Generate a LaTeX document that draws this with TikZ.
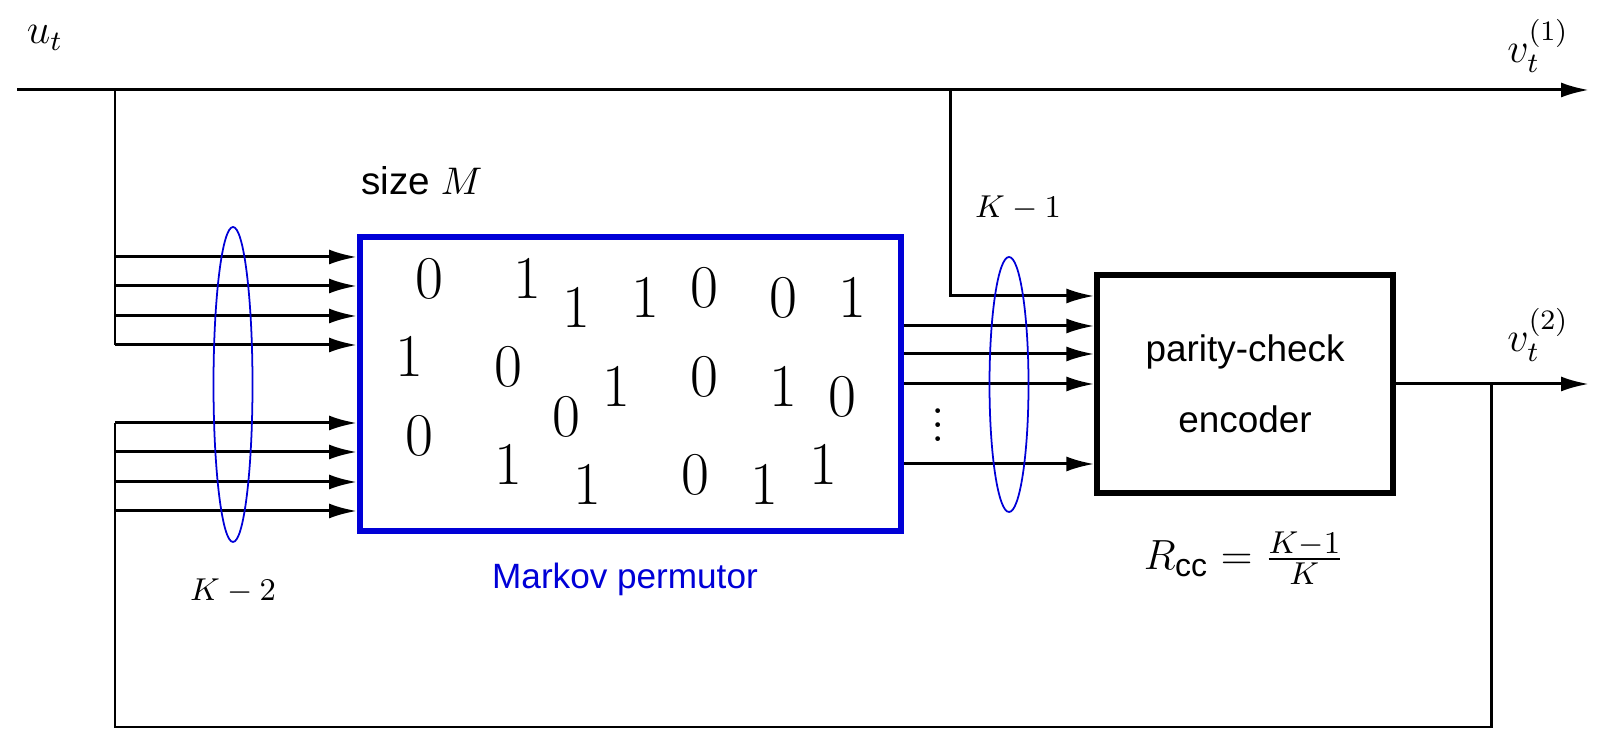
\documentclass[tikz,border=0pt]{standalone}
\usepackage{amsmath}
\usepackage{fontspec}
\setsansfont{Liberation Sans}
\usetikzlibrary{arrows.meta}
\definecolor{permblue}{RGB}{0,0,215}

\begin{document}
\begin{tikzpicture}[line width=0.85pt,
  >={Latex[length=0.28cm,width=0.15cm]},
  bit/.style={font=\fontsize{16}{16}\selectfont},
  lbl/.style={font=\fontsize{12}{14}\selectfont},
  grp/.style={font=\fontsize{9}{11}\selectfont},
  txt/.style={font=\sffamily\fontsize{10.5}{20.2}\selectfont},
  grpring/.style={draw=permblue,line width=0.5pt}]
\useasboundingbox (0,0) rectangle (15.97,7.31);
\node[draw=permblue,line width=1.7pt,minimum width=5.41cm,minimum height=2.94cm,inner sep=0] (perm) at (6.305,3.47) {};
\node[draw,line width=1.5pt,minimum width=2.96cm,minimum height=2.18cm,inner sep=0,txt,align=center] (enc) at (12.45,3.47) {parity-check\\encoder};
\node[lbl] (ut) at (0.45,6.93) {$u_t$};
\node[lbl] (v1) at (15.38,6.85) {$v_t^{(1)}$};
\node[lbl] (v2) at (15.38,3.96) {$v_t^{(2)}$};
\node[txt,font=\sffamily\fontsize{11}{13}\selectfont] (size) at (4.22,5.50) {size $M$};
\node[txt,font=\sffamily\fontsize{10}{12}\selectfont,text=permblue] (permlbl) at (6.25,1.52) {Markov permutor};
\node[grp] (kmtwo) at (2.33,1.40) {$K-2$};
\node[grp] (kmone) at (10.18,5.23) {$K-1$};
\node[font=\fontsize{13}{15}\selectfont] (rate) at (12.44,1.73) {$R_{\textsf{cc}}=\frac{K-1}{K}$};
\node[font=\fontsize{14}{14}\selectfont,inner sep=0] (dots) at (9.38,3.16) {$\vdots$};
\foreach \x/\y/\b [count=\i] in {4.29/4.52/0,5.27/4.52/1,5.76/4.23/1,6.45/4.33/1,7.04/4.43/0,7.83/4.33/0,8.52/4.33/1,
  4.09/3.74/1,5.08/3.64/0,5.66/3.14/0,6.16/3.44/1,7.04/3.54/0,7.83/3.44/1,8.42/3.34/0,
  4.19/2.95/0,5.08/2.66/1,5.87/2.46/1,6.95/2.56/0,7.64/2.46/1,8.23/2.66/1}
  \node[bit] (bit\i) at (\x,\y) {$\b$};
\coordinate (in) at (0.17,6.41);
\coordinate (out1) at (15.89,6.41);
\coordinate (out2) at (15.89,3.47);
\coordinate (tapA) at (1.15,6.41);
\coordinate (tapB) at (9.50,6.41);
\coordinate (fb) at (14.91,3.47);
\coordinate (bot) at (1.15,0.04);
\coordinate (r0) at (9.50,4.35);
\draw[->] (in) -- (out1);
\foreach \y [count=\i] in {4.74,4.45,4.15,3.86,3.08,2.79,2.49,2.20}{
  \coordinate (l\i) at (1.15,\y);
  \draw[->] (l\i) -- (l\i -| perm.west);
}
\draw (tapA) -- (l4);
\draw (fb) |- (bot) -- (l5);
\foreach \y [count=\i] in {4.05,3.77,3.47,2.67}{
  \coordinate (r\i) at (perm.east |- 0,\y);
  \draw[->] (r\i) -- (r\i -| enc.west);
}
\draw[->] (tapB) -- (r0) -- (r0 -| enc.west);
\draw[->] (enc.east) -- (out2);
\draw[grpring] (2.33,3.465) ellipse (0.195 and 1.575);
\draw[grpring] (10.09,3.465) ellipse (0.195 and 1.275);
\end{tikzpicture}
\end{document}
